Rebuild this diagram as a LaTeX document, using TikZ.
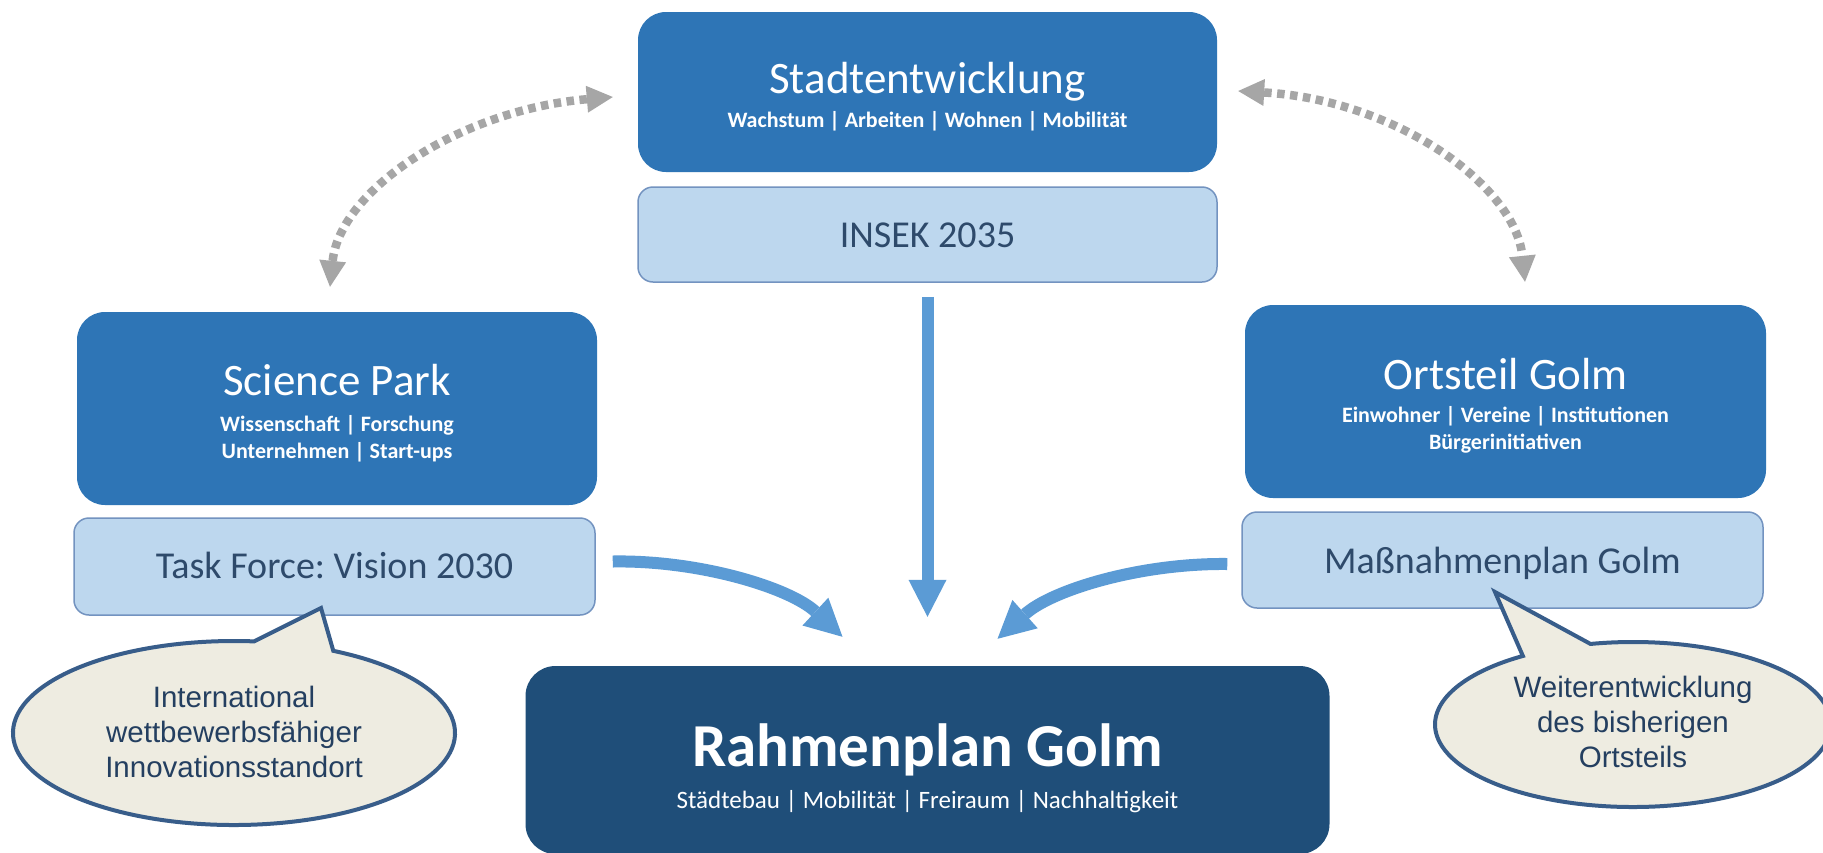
\documentclass[tikz,border=0pt]{standalone}
\usepackage{fontspec}
\setmainfont{Carlito}
\newfontfamily\arialfont{Liberation Sans}
\usetikzlibrary{arrows.meta,calc}
\frenchspacing
\definecolor{boxblue}{HTML}{2E75B6}
\definecolor{darkblue}{HTML}{1F4E79}
\definecolor{lightblue}{HTML}{BDD7EE}
\definecolor{lightborder}{HTML}{7393C0}
\definecolor{lighttext}{HTML}{2E4A6B}
\definecolor{arrowblue}{HTML}{5B9BD5}
\definecolor{dotgray}{HTML}{A6A6A6}
\definecolor{calloutfill}{HTML}{EEECE1}
\definecolor{calloutline}{HTML}{385D8A}
\definecolor{callouttext}{HTML}{243F60}
\begin{document}
\begin{tikzpicture}[x=1pt,y=-1pt,
  darkbox/.style={rectangle,rounded corners=28pt,fill=boxblue,inner sep=0pt},
  mainbox/.style={rectangle,rounded corners=30pt,fill=darkblue,inner sep=0pt},
  lightbox/.style={rectangle,rounded corners=15pt,fill=lightblue,draw=lightborder,line width=1.5pt,inner sep=0pt},
  titletext/.style={text=white,font=\fontsize{45}{54}\selectfont,inner sep=0pt,anchor=base},
  subtext/.style={text=white,font=\bfseries\fontsize{22}{26}\selectfont,inner sep=0pt,anchor=base},
  lbltext/.style={text=lighttext,font=\fontsize{38}{45}\selectfont,inner sep=0pt,anchor=base},
  flowarrow/.style={draw=arrowblue,line width=12pt,-{Triangle[width=38pt,length=37pt,line width=0pt]}},
  dotarrow/.style={draw=dotgray,line width=8.5pt,dash pattern=on 7.5pt off 5.5pt,
     {Triangle[width=27pt,length=26pt,line width=0pt]}-{Triangle[width=27pt,length=26pt,line width=0pt]}},
  callout/.style={fill=calloutfill,draw=calloutline,line width=4pt,line join=miter},
  callouttxt/.style={text=callouttext,font=\arialfont\fontsize{29.5}{35}\selectfont,align=center,inner sep=0pt}
]
\useasboundingbox (0,0) rectangle (1823,852);
\fill[white] (0,0) rectangle (1823,852);

% boxes
\node[darkbox,minimum width=579pt,minimum height=160pt] (stadt) at (927.5,92) {};
\node[lightbox,minimum width=579pt,minimum height=95pt] (insek) at (927.5,234.5) {};
\node[darkbox,minimum width=520pt,minimum height=193pt] (science) at (337,408.5) {};
\node[lightbox,minimum width=521pt,minimum height=97pt] (taskforce) at (334.5,566.5) {};
\node[darkbox,minimum width=521pt,minimum height=193pt] (ortsteil) at (1505.5,401.5) {};
\node[lightbox,minimum width=521pt,minimum height=96pt] (mass) at (1502.5,560) {};
\node[mainbox,minimum width=804pt,minimum height=188pt] (rahmen) at (927.5,760) {};

% texts
\node[titletext] (stadtT) at (927.5,93) {Stadtentwicklung};
\node[subtext] (stadtS) at (927.5,127) {Wachstum | Arbeiten | Wohnen | Mobilität};
\node[lbltext] (insekT) at (927.5,247) {INSEK 2035};
\node[titletext] (scienceT) at (337,395) {Science Park};
\node[subtext] (scienceS1) at (337,431) {Wissenschaft | Forschung};
\node[subtext] (scienceS2) at (337,458) {Unternehmen | Start-ups};
\node[lbltext] (taskT) at (334.5,578) {Task Force: Vision 2030};
\node[titletext] (ortT) at (1505.5,389) {Ortsteil Golm};
\node[subtext] (ortS1) at (1505.5,422) {Einwohner | Vereine | Institutionen};
\node[subtext] (ortS2) at (1505.5,449) {Bürgerinitiativen};
\node[lbltext] (massT) at (1502.5,573) {Maßnahmenplan Golm};
\node[text=white,font=\bfseries\fontsize{61}{70}\selectfont,inner sep=0pt,anchor=base] (rahmenT) at (927.5,766) {Rahmenplan Golm};
\node[text=white,font=\fontsize{25}{30}\selectfont,inner sep=0pt,anchor=base] (rahmenS) at (927.5,808) {Städtebau | Mobilität | Freiraum | Nachhaltigkeit};

% flow arrows
\draw[flowarrow] ($(insek.south)+(0,14)$) -- ($(rahmen.north)+(0,-49)$);
\draw[flowarrow] ($(taskforce.east)+(17,-5)$) .. controls (700,560) and (790,588) .. ($(rahmen.north)+(-85,-29)$);
\draw[flowarrow] ($(mass.west)+(-14,4)$) .. controls (1140,563) and (1052,590) .. ($(rahmen.north)+(70,-27)$);

% dotted arrows
\draw[dotarrow] ($(stadt.west)+(-25,5)$) .. controls (460,110) and (340,190) .. ($(science.north)+(-7,-25)$);
\draw[dotarrow] ($(stadt.east)+(21,-1)$) .. controls (1395,100) and (1515,185) .. ($(ortsteil.north)+(19.5,-23)$);

% callouts
\coordinate (lc) at (234,733);
\coordinate (ltip) at (321,608);
\filldraw[callout] ($(lc)+(-63.3:221 and 92)$) arc[start angle=-63.3,end angle=275.2,x radius=221,y radius=92] -- (ltip) -- cycle;
\node[callouttxt] (lcT) at (234,732) {International\\wettbewerbsfähiger\\Innovationsstandort};

\coordinate (rc) at (1633,724.5);
\coordinate (rtip) at (1495,592);
\filldraw[callout] ($(rc)+(-102.4:198 and 82.5)$) arc[start angle=-102.4,end angle=236.2,x radius=198,y radius=82.5] -- (rtip) -- cycle;
\node[callouttxt] (rcT) at (1633,722) {Weiterentwicklung\\des bisherigen\\Ortsteils};
\end{tikzpicture}
\end{document}
